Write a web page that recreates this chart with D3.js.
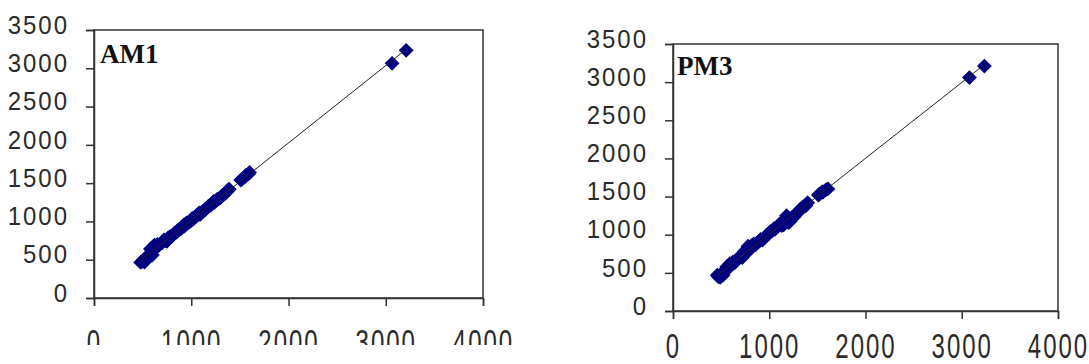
<!DOCTYPE html>
<html>
<head>
<meta charset="utf-8">
<script src="https://cdn.jsdelivr.net/npm/d3@7"></script>
<style>
  html, body { margin: 0; padding: 0; background: #fff; }
  svg { display: block; }
</style>
</head>
<body>
<svg id="chart" width="1089" height="364"></svg>
<script>
// ---- data ----
const xTicks = [0, 1000, 2000, 3000, 4000];
const yTicks = [0, 500, 1000, 1500, 2000, 2500, 3000, 3500];

const am1Title = "AM1";
const am1X = [480, 500, 510, 520, 530, 545, 560, 570, 580, 590, 600, 610, 620, 640, 650, 670, 700, 720, 730, 750, 760, 780, 800, 820, 830, 850, 860, 880, 900, 920, 930, 950, 960, 980, 1000, 1010, 1030, 1050, 1060, 1080, 1090, 1110, 1120, 1140, 1150, 1170, 1180, 1200, 1210, 1230, 1240, 1260, 1270, 1290, 1300, 1320, 1330, 1350, 1360, 1380, 1390, 1510, 1520, 1550, 1560, 1590, 1600, 3065, 3210];
const am1Y = [465, 480, 500, 470, 520, 510, 540, 555, 640, 600, 560, 650, 690, 660, 700, 690, 720, 760, 745, 740, 780, 800, 810, 830, 850, 860, 880, 900, 910, 950, 940, 980, 975, 990, 1010, 1040, 1040, 1070, 1080, 1110, 1090, 1120, 1130, 1150, 1160, 1190, 1200, 1210, 1230, 1260, 1250, 1280, 1290, 1300, 1310, 1340, 1350, 1370, 1380, 1410, 1420, 1540, 1550, 1580, 1600, 1620, 1640, 3065, 3235];

const pm3Title = "PM3";
const pm3X = [460, 470, 490, 500, 510, 520, 530, 550, 560, 575, 590, 600, 620, 640, 650, 670, 700, 720, 740, 760, 780, 790, 810, 820, 840, 860, 880, 900, 910, 930, 950, 970, 980, 1000, 1010, 1030, 1050, 1060, 1080, 1100, 1110, 1130, 1150, 1160, 1180, 1190, 1200, 1220, 1230, 1250, 1260, 1280, 1290, 1310, 1320, 1340, 1350, 1370, 1380, 1400, 1510, 1520, 1550, 1560, 1590, 1610, 3080, 3235];
const pm3Y = [470, 450, 440, 480, 500, 470, 520, 540, 580, 560, 620, 600, 640, 630, 660, 680, 720, 700, 780, 760, 850, 800, 820, 860, 880, 870, 900, 920, 940, 930, 960, 990, 1000, 1020, 1040, 1050, 1080, 1070, 1100, 1130, 1140, 1120, 1130, 1200, 1250, 1220, 1160, 1180, 1220, 1230, 1240, 1270, 1290, 1310, 1330, 1350, 1360, 1380, 1380, 1420, 1520, 1530, 1560, 1560, 1590, 1600, 3060, 3210];

// ---- layout ----
const panels = [
  { title: am1Title, xs: am1X, ys: am1Y, x0: 94, x1: 483, y0: 30, y1: 298, titleX: 100, titleY: 63, xLabTop: 328, clipY: 345 },
  { title: pm3Title, xs: pm3X, ys: pm3Y, x0: 673, x1: 1058, y0: 44, y1: 311, titleX: 677, titleY: 75, xLabTop: 332, clipY: 364 }
];

const svg = d3.select("#chart");
const axisColor = "#333";
const markColor = "#000080";

panels.forEach((p, i) => {
  const x = d3.scaleLinear().domain([0, 4000]).range([p.x0, p.x1]);
  const y = d3.scaleLinear().domain([0, 3500]).range([p.y1, p.y0]);
  const g = svg.append("g");

  // plot box
  g.append("rect")
    .attr("x", p.x0).attr("y", p.y0)
    .attr("width", p.x1 - p.x0).attr("height", p.y1 - p.y0)
    .attr("fill", "none").attr("stroke", axisColor).attr("stroke-width", 1.5);

  // y axis
  const yAxis = g.append("g").attr("transform", `translate(${p.x0},0)`)
    .call(d3.axisLeft(y).tickValues(yTicks).tickSize(8).tickPadding(17).tickFormat(d3.format("d")));
  yAxis.select(".domain").attr("stroke", axisColor).attr("stroke-width", 1.5);
  yAxis.selectAll(".tick line").attr("stroke", axisColor).attr("stroke-width", 1.5);
  yAxis.selectAll(".tick text")
    .attr("font-family", "'Liberation Sans', Arial, sans-serif")
    .attr("font-size", 24).attr("letter-spacing", 2)
    .attr("fill", "#2a2a2a").attr("dy", "0.12em")
    .attr("transform", "scale(1,1.1)");

  // x axis (labels clipped at bottom like the reference)
  const clipId = "clip" + i;
  svg.append("clipPath").attr("id", clipId).append("rect")
    .attr("x", -2000).attr("y", -p.y1).attr("width", 5000).attr("height", p.clipY);
  const xAxis = g.append("g").attr("transform", `translate(0,${p.y1})`)
    .attr("clip-path", `url(#${clipId})`)
    .call(d3.axisBottom(x).tickValues(xTicks).tickSize(8).tickPadding(0).tickFormat(d3.format("d")));
  xAxis.select(".domain").attr("stroke", axisColor).attr("stroke-width", 1.5);
  xAxis.selectAll(".tick line").attr("stroke", axisColor).attr("stroke-width", 1.5);
  xAxis.selectAll(".tick text")
    .attr("font-family", "'Liberation Sans', Arial, sans-serif")
    .attr("font-size", 24).attr("letter-spacing", 2)
    .attr("fill", "#2a2a2a")
    .attr("dy", null).attr("y", null)
    .attr("transform", `translate(0,${p.xLabTop - p.y1}) scale(1,1.5)`)
    .attr("dominant-baseline", "hanging");

  // points
  const pts = p.xs.map((v, k) => ({ x: v, y: p.ys[k] }));

  // least-squares trend line
  const mx = d3.mean(pts, d => d.x), my = d3.mean(pts, d => d.y);
  const slope = d3.sum(pts, d => (d.x - mx) * (d.y - my)) / d3.sum(pts, d => (d.x - mx) ** 2);
  const icpt = my - slope * mx;
  const [minX, maxX] = d3.extent(pts, d => d.x);

  const sym = d3.symbol().type(d3.symbolSquare).size(110);
  g.append("g").selectAll("path").data(pts).join("path")
    .attr("d", sym)
    .attr("transform", d => `translate(${x(d.x)},${y(d.y)}) rotate(45)`)
    .attr("fill", markColor);

  g.append("line")
    .attr("x1", x(minX)).attr("y1", y(icpt + slope * minX))
    .attr("x2", x(maxX)).attr("y2", y(icpt + slope * maxX))
    .attr("stroke", "#222").attr("stroke-width", 1);

  // title
  g.append("text")
    .attr("x", p.titleX).attr("y", p.titleY)
    .attr("font-family", "'Liberation Serif', 'Times New Roman', serif")
    .attr("font-weight", "bold").attr("font-size", 27)
    .attr("fill", "#111")
    .text(p.title);
});
</script>
</body>
</html>
